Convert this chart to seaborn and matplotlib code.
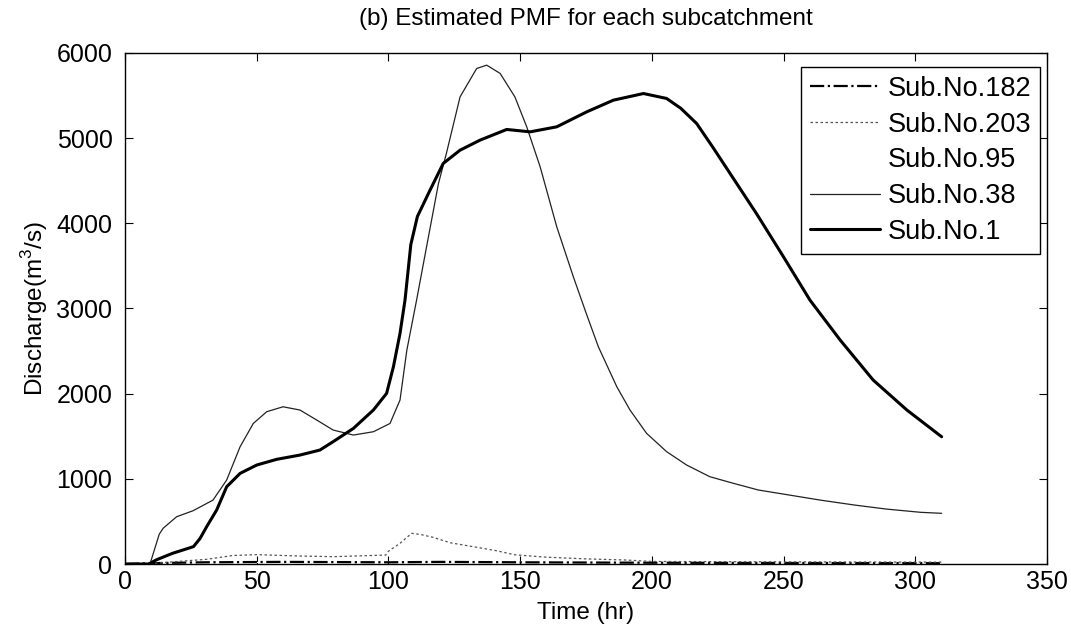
import matplotlib
matplotlib.use("Agg")
import matplotlib.pyplot as plt
import numpy as np
import pandas as pd
import seaborn as sns

# Hydrographs (time in hours, discharge in m^3/s)
t_sub1 = [0, 9, 12, 18, 26, 28.5, 31, 34.8, 38.6, 43.7, 50, 57.6, 66.4, 74, 79,
          86.7, 94.3, 99.3, 101.9, 104.4, 106.3, 108.5, 111, 115.8, 120.8, 127.2,
          134.8, 144.9, 153.8, 163.9, 175.3, 185.4, 196.8, 205.6, 211, 217, 223,
          229.7, 239.8, 249.9, 260, 271.5, 284, 296.8, 310]
q_sub1 = [0, 0, 50, 125, 204, 300, 438, 634, 907, 1064, 1162, 1229, 1279, 1338, 1436,
          1592, 1808, 2003, 2316, 2708, 3099, 3750, 4080, 4390, 4703, 4859,
          4977, 5102, 5074, 5133, 5309, 5446, 5524, 5466, 5350, 5172, 4900,
          4585, 4110, 3610, 3099, 2629, 2160, 1808, 1494]

t_sub38 = [0, 9.5, 11, 13, 14.5, 19.6, 25.8, 33.4, 38.6, 43.7, 48.7, 53.8, 60, 66.4,
           72.8, 79, 86.7, 94.3, 100.6, 104.4, 107, 110.7, 113.3, 119, 122, 127.2,
           133.5, 137.3, 142.4, 148, 152.5, 157.6, 163.9, 170.2, 175, 179.7, 186.7,
           191.7, 198, 205.6, 213.2, 222, 231, 240.4, 264, 277, 289, 302, 310]
q_sub38 = [0, 0, 150, 350, 420, 555, 625, 750, 986, 1377, 1650, 1788, 1846, 1808,
           1690, 1573, 1514, 1553, 1650, 1925, 2512, 3100, 3530, 4468, 4820, 5485,
           5818, 5857, 5760, 5485, 5133, 4663, 3959, 3372, 2950, 2550, 2081,
           1808, 1534, 1319, 1162, 1025, 947, 869, 750, 692, 645, 607, 595]

t_sub203 = [0, 10, 20, 31, 41, 50, 66, 79, 99, 100, 104.4, 108.8, 112, 117, 123.4,
            132.2, 141, 148, 160, 175, 190, 200, 250, 310]
q_sub203 = [0, 5, 30, 55, 100, 110, 94, 86, 105, 150, 243, 360, 348, 313, 250,
            203, 156, 108, 80, 60, 47, 30, 25, 22]

t_sub95 = [0, 10, 30, 60, 100, 120, 150, 200, 250, 310]
q_sub95 = [0, 5, 15, 20, 25, 30, 25, 18, 14, 10]

t_sub182 = [0, 10, 30, 60, 100, 120, 150, 200, 250, 310]
q_sub182 = [0, 10, 20, 25, 20, 25, 20, 15, 12, 10]

x_ticks = [0, 50, 100, 150, 200, 250, 300, 350]
y_ticks = [0, 1000, 2000, 3000, 4000, 5000, 6000]

sns.set_style("ticks", {"xtick.direction": "in", "ytick.direction": "in",
                        "text.color": "black", "axes.labelcolor": "black",
                        "xtick.color": "black", "ytick.color": "black"})
plt.rcParams["font.family"] = ["Liberation Sans", "DejaVu Sans"]
plt.rcParams["mathtext.fontset"] = "custom"
plt.rcParams["mathtext.rm"] = "Liberation Sans"

fig, ax = plt.subplots(figsize=(10.71, 6.36), dpi=100)
fig.subplots_adjust(left=0.1167, right=0.9776, top=0.9167, bottom=0.1132)


def frame(t, q):
    return pd.DataFrame({"Time": t, "Q": q})


sns.lineplot(data=frame(t_sub182, q_sub182), x="Time", y="Q", ax=ax, color="black",
             lw=1.6, linestyle="-.", label="Sub.No.182", zorder=3)
sns.lineplot(data=frame(t_sub203, q_sub203), x="Time", y="Q", ax=ax, color="#555555",
             lw=0.9, linestyle=(0, (2, 2)), label="Sub.No.203", zorder=3)
sns.lineplot(data=frame(t_sub95, q_sub95), x="Time", y="Q", ax=ax, color="white",
             lw=0.8, label="Sub.No.95", zorder=1)
sns.lineplot(data=frame(t_sub38, q_sub38), x="Time", y="Q", ax=ax, color="#222222",
             lw=0.9, label="Sub.No.38", zorder=4)
sns.lineplot(data=frame(t_sub1, q_sub1), x="Time", y="Q", ax=ax, color="black",
             lw=2.2, label="Sub.No.1", zorder=5)

ax.set_xlim(0, 350)
ax.set_ylim(0, 6000)
ax.set_xticks(x_ticks)
ax.set_yticks(y_ticks)
ax.tick_params(axis="both", which="both", direction="in", top=True, right=True,
               labelsize=18, length=6, width=0.8, colors="black")
ax.tick_params(axis="y", pad=9)
ax.tick_params(axis="x", pad=4)
for s in ax.spines.values():
    s.set_visible(True)
    s.set_color("black")
    s.set_linewidth(1.0)

ax.set_xlabel("Time (hr)", fontsize=17.5, labelpad=6, color="black")
ax.set_ylabel("Discharge(m$^3$/s)", fontsize=17.5, labelpad=5, color="black")
ax.set_title("(b) Estimated PMF for each subcatchment", fontsize=17.5, pad=20,
             color="black")

leg = ax.legend(loc="upper right", bbox_to_anchor=(0.9924, 0.9726), fontsize=19.5,
                frameon=True, fancybox=False, edgecolor="black", framealpha=1,
                borderpad=0.33, labelspacing=0.36, handlelength=2.6,
                handletextpad=0.27, borderaxespad=0.0)
leg.get_frame().set_linewidth(1.0)
for txt in leg.get_texts():
    txt.set_color("black")

fig.savefig("out.png", dpi=100)
